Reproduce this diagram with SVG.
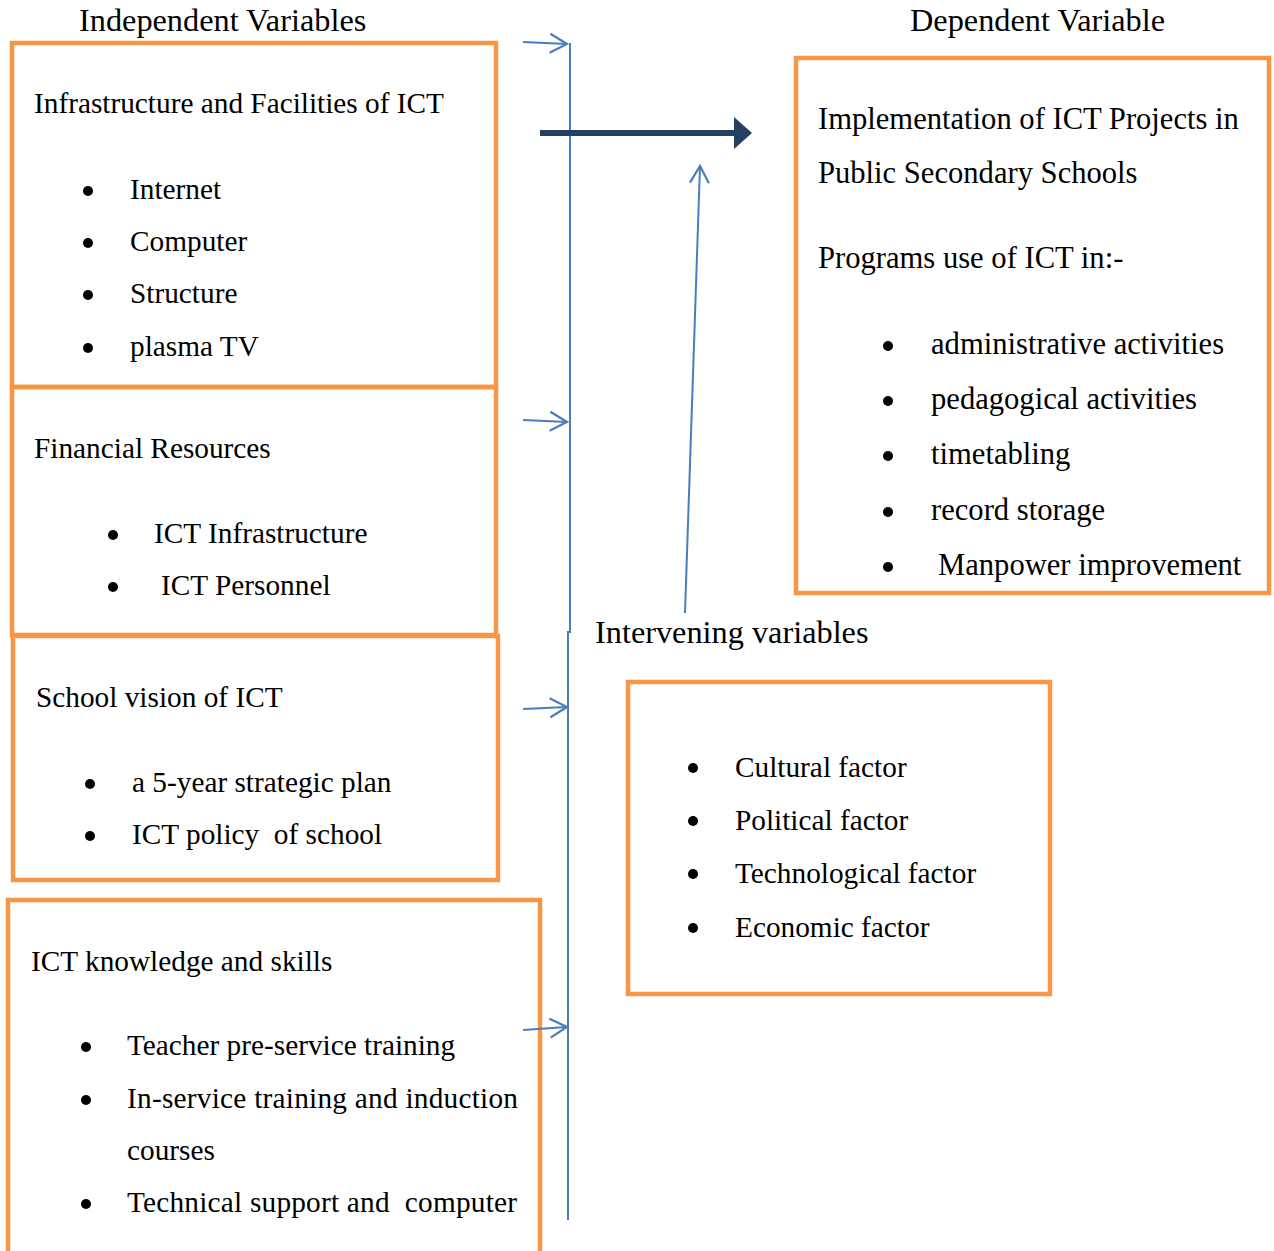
<svg xmlns="http://www.w3.org/2000/svg" width="1274" height="1251" viewBox="0 0 1274 1251">
<style>
  text { font-family: "Liberation Serif", "Times New Roman", serif; font-size: 29.3px; fill: #000; }
  .hdr { font-size: 32.3px; }
  .dep text { font-size: 30.6px; }
  .box { fill: none; stroke: #F79646; stroke-width: 4.5; }
  .conn { fill: none; stroke: #4A7EBB; stroke-width: 2; }
  .dot { fill: #000; }
</style>
<defs>
  <marker id="open" markerUnits="userSpaceOnUse" markerWidth="22" markerHeight="24" refX="19" refY="11" orient="auto">
    <path d="M2,1.5 L19,11 L2,20.5" fill="none" stroke="#4A7EBB" stroke-width="2.2"/>
  </marker>
</defs>
<rect width="1274" height="1251" fill="#fff"/>

<text class="hdr" x="79" y="31">Independent Variables</text>
<text class="hdr" x="910" y="31">Dependent Variable</text>

<g id="infrastructure">
  <rect class="box" x="12" y="43" width="484" height="344"/>
  <text x="34" y="113">Infrastructure and Facilities of ICT</text>
  <circle class="dot" cx="88" cy="191" r="5"/><text x="130" y="199">Internet</text>
  <circle class="dot" cx="88" cy="243" r="5"/><text x="130" y="251">Computer</text>
  <circle class="dot" cx="88" cy="295" r="5"/><text x="130" y="303">Structure</text>
  <circle class="dot" cx="88" cy="348" r="5"/><text x="130" y="356">plasma TV</text>
</g>

<g id="financial">
  <rect class="box" x="12" y="387" width="484" height="248"/>
  <text x="34" y="458">Financial Resources</text>
  <circle class="dot" cx="113" cy="535" r="5"/><text x="154" y="543">ICT Infrastructure</text>
  <circle class="dot" cx="113" cy="587" r="5"/><text x="161" y="595">ICT Personnel</text>
</g>

<g id="vision">
  <rect class="box" x="13" y="636" width="485" height="244"/>
  <text x="36" y="707">School vision of ICT</text>
  <circle class="dot" cx="90" cy="784" r="5"/><text x="132" y="792">a 5-year strategic plan</text>
  <circle class="dot" cx="90" cy="836" r="5"/><text x="132" y="844" xml:space="preserve">ICT policy  of school</text>
</g>

<g id="knowledge">
  <rect class="box" x="8" y="900" width="532" height="370"/>
  <text x="31" y="971">ICT knowledge and skills</text>
  <circle class="dot" cx="86" cy="1047" r="5"/><text x="127" y="1055">Teacher pre-service training</text>
  <circle class="dot" cx="86" cy="1100" r="5"/><text x="127" y="1108" textLength="391" lengthAdjust="spacing">In-service training and induction</text>
  <text x="127" y="1160">courses</text>
  <circle class="dot" cx="86" cy="1204" r="5"/><text x="127" y="1212" xml:space="preserve" textLength="390" lengthAdjust="spacing">Technical support and  computer</text>
</g>

<g id="dependent" class="dep">
  <rect class="box" x="796" y="58" width="473" height="535"/>
  <text x="818" y="129">Implementation of ICT Projects in</text>
  <text x="818" y="183">Public Secondary Schools</text>
  <text x="818" y="268">Programs use of ICT in:-</text>
  <circle class="dot" cx="888" cy="346" r="5"/><text x="931" y="354">administrative activities</text>
  <circle class="dot" cx="888" cy="401" r="5"/><text x="931" y="409">pedagogical activities</text>
  <circle class="dot" cx="888" cy="456" r="5"/><text x="931" y="464">timetabling</text>
  <circle class="dot" cx="888" cy="512" r="5"/><text x="931" y="520">record storage</text>
  <circle class="dot" cx="888" cy="567" r="5"/><text x="938" y="575">Manpower improvement</text>
</g>

<g id="intervening">
  <text class="hdr" x="595" y="643">Intervening variables</text>
  <rect class="box" x="628" y="682" width="422" height="312"/>
  <circle class="dot" cx="693" cy="768" r="5"/><text x="735" y="777">Cultural factor</text>
  <circle class="dot" cx="693" cy="821" r="5"/><text x="735" y="830">Political factor</text>
  <circle class="dot" cx="693" cy="874" r="5"/><text x="735" y="883">Technological factor</text>
  <circle class="dot" cx="693" cy="928" r="5"/><text x="735" y="937">Economic factor</text>
</g>

<g id="connectors">
  <path class="conn" d="M570,43 L570,632 L568,632 L568,1220"/>
  <line class="conn" x1="523" y1="42" x2="567" y2="44" marker-end="url(#open)"/>
  <line class="conn" x1="523" y1="420" x2="567" y2="422" marker-end="url(#open)"/>
  <line class="conn" x1="523" y1="709" x2="567" y2="707" marker-end="url(#open)"/>
  <line class="conn" x1="523" y1="1030" x2="567" y2="1027" marker-end="url(#open)"/>
  <line class="conn" x1="685" y1="613" x2="700" y2="166" marker-end="url(#open)"/>
  <line x1="540" y1="133" x2="736" y2="133" stroke="#243F60" stroke-width="6"/>
  <polygon points="734,117 752,133 734,149" fill="#243F60"/>
</g>
</svg>
